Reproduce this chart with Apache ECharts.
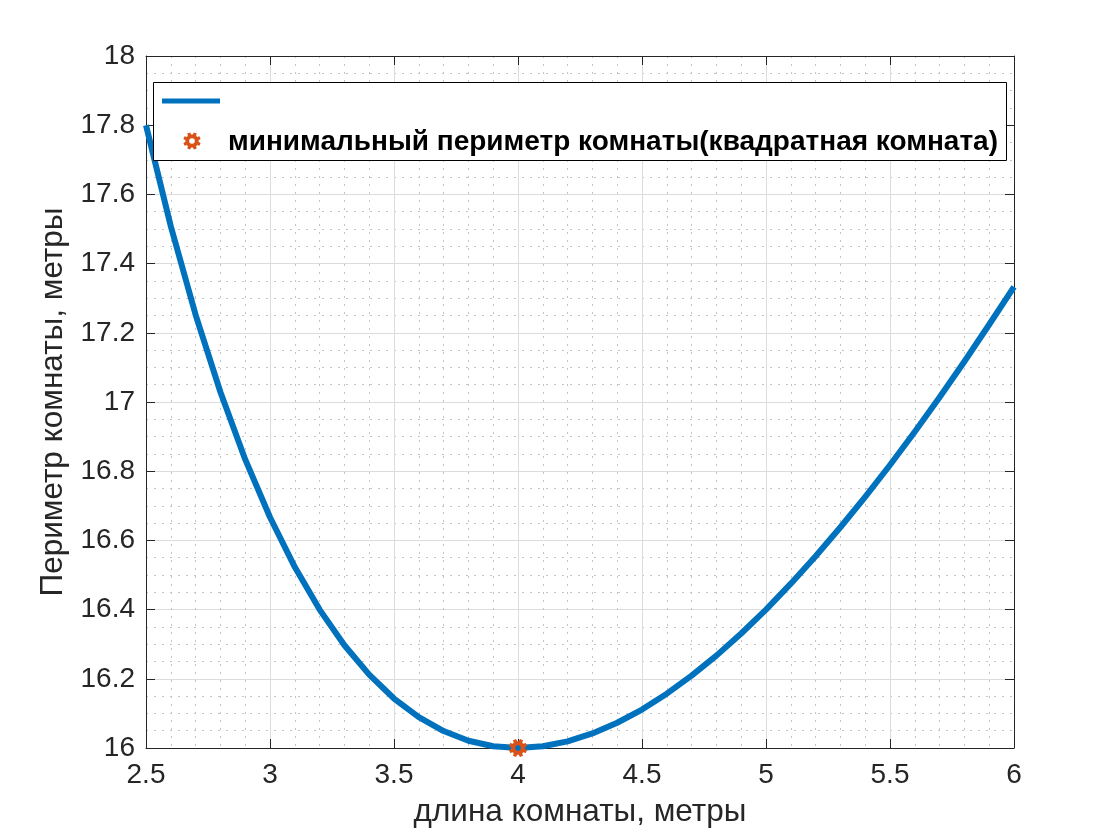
<!DOCTYPE html>
<html>
<head>
<meta charset="utf-8">
<script src="https://cdn.jsdelivr.net/npm/echarts@6/dist/echarts.min.js"></script>
<style>
html,body{margin:0;padding:0;background:#fff;}
#chart{width:1120px;height:840px;}
</style>
</head>
<body>
<div id="chart"></div>
<script>
// ---- data ----
const roomLength = [2.5,2.6,2.7,2.8,2.9,3.0,3.1,3.2,3.3,3.4,3.5,3.6,3.7,3.8,3.9,4.0,4.1,4.2,4.3,4.4,4.5,4.6,4.7,4.8,4.9,5.0,5.1,5.2,5.3,5.4,5.5,5.6,5.7,5.8,5.9,6.0];
const perimeter = [17.8,17.508,17.252,17.029,16.834,16.667,16.523,16.4,16.297,16.212,16.143,16.089,16.049,16.021,16.005,16.0,16.005,16.019,16.042,16.073,16.111,16.157,16.209,16.267,16.331,16.4,16.475,16.554,16.638,16.726,16.818,16.914,17.014,17.117,17.224,17.333];
const minLength = [4];
const minPerimeter = [16];
const xTicks = [2.5,3,3.5,4,4.5,5,5.5,6];
const yTicks = [16,16.2,16.4,16.6,16.8,17,17.2,17.4,17.6,17.8,18];
const xTitle = 'длина комнаты, метры';
const yTitle = 'Периметр комнаты, метры';
const legendNames = [' ', 'минимальный периметр комнаты(квадратная комната)'];

// ---- style ----
const BLUE = '#0072BD', ORANGE = '#D95319', AX = '#262626';
const FONT = '"Liberation Sans", Arial, Helvetica, sans-serif';

function gearPoints(cx, cy, R, r) {
  const pts = [];
  for (let k = 0; k < 8; k++) {
    const a = k * 45 + 22.5;
    [[a - 10, R], [a + 10, R], [a + 16, r], [a + 29, r]].forEach(function (p) {
      const t = p[0] * Math.PI / 180;
      pts.push([cx + p[1] * Math.cos(t), cy + p[1] * Math.sin(t)]);
    });
  }
  return pts;
}
function gearPath() {
  const pts = gearPoints(10, 10, 10, 7.4);
  let d = 'M' + pts.map(function (p) { return p[0].toFixed(2) + ' ' + p[1].toFixed(2); }).join(' L') + ' Z';
  const hole = [];
  for (let i = 0; i < 16; i++) {
    const t = -i * 22.5 * Math.PI / 180;
    hole.push([10 + 3.1 * Math.cos(t), 10 + 3.1 * Math.sin(t)]);
  }
  d += ' M' + hole.map(function (p) { return p[0].toFixed(2) + ' ' + p[1].toFixed(2); }).join(' L') + ' Z';
  return d;
}
const GEAR = gearPath();

const chart = echarts.init(document.getElementById('chart'), null, {renderer: 'canvas'});

const gridL = 146, gridT = 56, gridR = 1014, gridB = 748;

const baseX = {
  type: 'value', min: xTicks[0], max: xTicks[xTicks.length - 1], interval: 0.5,
  axisLine: {show: true, onZero: false, lineStyle: {color: AX, width: 1}},
  axisTick: {show: true, inside: true, length: 9, lineStyle: {color: AX}},
  minorTick: {show: false, splitNumber: 5},
  minorSplitLine: {show: true, lineStyle: {color: '#c4c4c4', width: 1, type: [2, 6]}},
  splitLine: {show: true, lineStyle: {color: '#dcdcdc', width: 1}}
};
const baseY = {
  type: 'value', min: yTicks[0], max: yTicks[yTicks.length - 1], interval: 0.2,
  axisLine: {show: true, onZero: false, lineStyle: {color: AX, width: 1}},
  axisTick: {show: true, inside: true, length: 9, lineStyle: {color: AX}},
  minorTick: {show: false, splitNumber: 4},
  minorSplitLine: {show: true, lineStyle: {color: '#c4c4c4', width: 1, type: [2, 6]}},
  splitLine: {show: true, lineStyle: {color: '#dcdcdc', width: 1}}
};

const legendGear = gearPoints(192, 141, 8.8, 6.6);

const option = {
  backgroundColor: '#ffffff',
  animation: false,
  grid: {left: gridL, top: gridT, width: gridR - gridL, height: gridB - gridT, containLabel: false, show: false},
  xAxis: [
    Object.assign({}, baseX, {
      position: 'bottom',
      name: xTitle, nameLocation: 'middle', nameGap: 48,
      nameTextStyle: {color: AX, fontSize: 31.5, fontFamily: FONT},
      axisLabel: {show: true, color: AX, fontSize: 28, fontFamily: FONT, margin: 13,
        formatter: function (v) { return String(+v.toFixed(2)); }}
    }),
    Object.assign({}, baseX, {
      position: 'top', splitLine: {show: false}, minorSplitLine: {show: false},
      axisLabel: {show: false}
    })
  ],
  yAxis: [
    Object.assign({}, baseY, {
      position: 'left',
      name: yTitle, nameLocation: 'middle', nameGap: 74, nameRotate: 90,
      nameTextStyle: {color: AX, fontSize: 31.5, fontFamily: FONT},
      axisLabel: {show: true, color: AX, fontSize: 28, fontFamily: FONT, margin: 11,
        formatter: function (v) { return String(+v.toFixed(2)); }}
    }),
    Object.assign({}, baseY, {
      position: 'right', splitLine: {show: false}, minorSplitLine: {show: false},
      axisLabel: {show: false}
    })
  ],
  series: [
    {
      name: legendNames[0], type: 'line', xAxisIndex: 0, yAxisIndex: 0,
      data: roomLength.map(function (x, i) { return [x, perimeter[i]]; }),
      showSymbol: false, symbol: 'none', smooth: false,
      lineStyle: {color: BLUE, width: 6, cap: 'butt', join: 'round'},
      z: 3
    },
    {
      name: legendNames[1], type: 'scatter', xAxisIndex: 0, yAxisIndex: 0,
      data: minLength.map(function (x, i) { return [x, minPerimeter[i]]; }),
      symbol: 'path://' + GEAR, symbolSize: 18, clip: false,
      itemStyle: {color: ORANGE, opacity: 1},
      z: 5
    }
  ],
  graphic: {
    elements: [
      {type: 'rect', shape: {x: 153.5, y: 82.5, width: 853, height: 78},
        style: {fill: '#ffffff', stroke: '#000000', lineWidth: 1}, z: 100},
      {type: 'line', shape: {x1: 162, y1: 101, x2: 220, y2: 101},
        style: {stroke: BLUE, lineWidth: 5}, z: 101},
      {type: 'polygon', shape: {points: legendGear}, style: {fill: ORANGE}, z: 101},
      {type: 'circle', shape: {cx: 192, cy: 141, r: 2.8}, style: {fill: '#ffffff'}, z: 102},
      {type: 'text', x: 228, y: 142, z: 101,
        style: {text: legendNames[1], fill: '#000000', font: 'bold 28px ' + FONT, verticalAlign: 'middle', align: 'left'}}
    ]
  }
};
chart.setOption(option);
</script>
</body>
</html>
